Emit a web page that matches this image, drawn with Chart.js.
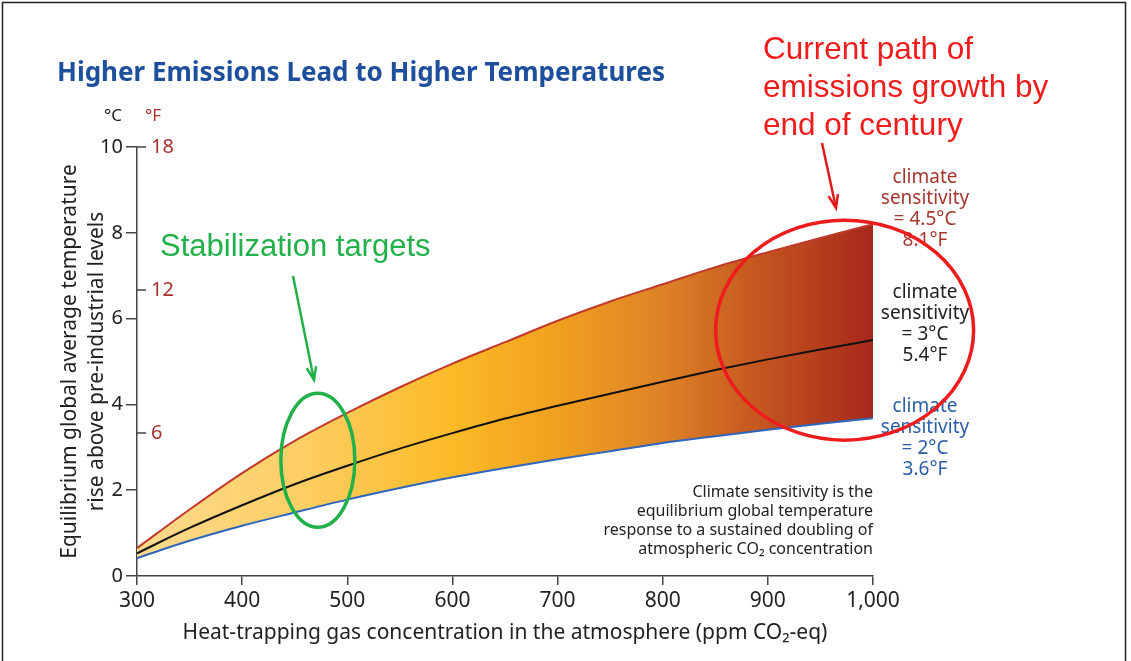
<!DOCTYPE html>
<html>
<head>
<meta charset="utf-8">
<script src="https://cdn.jsdelivr.net/npm/chart.js@4/dist/chart.umd.min.js"></script>
<style>
  html, body { margin: 0; padding: 0; background: #fff; }
  #wrap { width: 1131px; height: 661px; position: relative; }
</style>
</head>
<body>
<div id="wrap"><canvas id="tempChart"></canvas></div>
<script>
// CO2-eq concentration (ppm) and equilibrium warming (deg C)
const ppm     = [300, 350, 400, 450, 500, 550, 600, 650, 700, 750, 800, 850, 900, 950, 1000];
const sens45  = [0.65, 1.55, 2.4, 3.15, 3.8, 4.4, 4.95, 5.45, 5.95, 6.4, 6.8, 7.2, 7.55, 7.88, 8.2];
const sens3   = [0.53, 1.12, 1.65, 2.14, 2.57, 2.97, 3.33, 3.67, 3.97, 4.25, 4.53, 4.8, 5.05, 5.28, 5.5];
const sens2   = [0.42, 0.82, 1.17, 1.48, 1.78, 2.05, 2.3, 2.52, 2.72, 2.91, 3.1, 3.26, 3.41, 3.55, 3.68];

// axis ticks
const cTicks = [0, 2, 4, 6, 8, 10];
const fTicks = [6, 12, 18];

// fill colour along the x axis
const fillStops = [[300, '#fdda8e'], [450, '#fdcf66'], [600, '#fbba27'], [700, '#f1a01f'],
                   [800, '#de8227'], [900, '#c2521f'], [1000, '#a7281b']];

const HUMANIST = '"Noto Sans", "Open Sans", sans-serif';
const ARIAL = '"Liberation Sans", Arial, sans-serif';

function toPoints(ys) {
    return ppm.map((x, i) => ({ x: x, y: ys[i] }));
}

function bandFill(ctx) {
    const chart = ctx.chart;
    if (!chart.chartArea) return 'rgba(0,0,0,0)';
    const xs = chart.scales.x;
    const x0 = xs.getPixelForValue(ppm[0]);
    const x1 = xs.getPixelForValue(ppm[ppm.length - 1]);
    const g = chart.ctx.createLinearGradient(x0, 0, x1, 0);
    fillStops.forEach(s => g.addColorStop((s[0] - ppm[0]) / (ppm[ppm.length - 1] - ppm[0]), s[1]));
    return g;
}

function text(c, str, x, y, font, color, align) {
    c.font = font;
    c.fillStyle = color;
    c.textAlign = align || 'left';
    c.textBaseline = 'middle';
    c.fillText(str, x, y);
}

function arrow(c, x0, y0, x1, y1, color) {
    c.strokeStyle = color;
    c.fillStyle = color;
    c.lineWidth = 2.5;
    c.beginPath();
    c.moveTo(x0, y0);
    c.lineTo(x1, y1);
    c.stroke();
    const a = Math.atan2(y1 - y0, x1 - x0);
    c.beginPath();
    c.moveTo(x1 - 14 * Math.cos(a - 0.35), y1 - 14 * Math.sin(a - 0.35));
    c.lineTo(x1, y1);
    c.lineTo(x1 - 14 * Math.cos(a + 0.35), y1 - 14 * Math.sin(a + 0.35));
    c.stroke();
}

// everything drawn over the plot: second unit axis, labels, hand-drawn annotations
const decor = {
    id: 'decor',
    afterDraw(chart) {
        const c = chart.ctx;
        const xs = chart.scales.x, ys = chart.scales.y;
        const ax = chart.chartArea.left;
        c.save();

        // frame
        c.strokeStyle = '#222';
        c.lineWidth = 1.5;
        c.strokeRect(2.5, 2.5, 1123, 680);

        // title
        text(c, 'Higher Emissions Lead to Higher Temperatures', 57, 74, 'bold 26px ' + HUMANIST, '#1d4f9c');

        // units
        text(c, '°C', 113, 116, '17px ' + HUMANIST, '#222', 'center');
        text(c, '°F', 153, 116, '17px ' + HUMANIST, '#a8312c', 'center');

        // fahrenheit ticks on the right side of the axis
        c.strokeStyle = '#444';
        c.lineWidth = 1.5;
        fTicks.forEach(f => {
            const y = ys.getPixelForValue(f / 1.8);
            c.beginPath();
            c.moveTo(ax, y);
            c.lineTo(ax + 9, y);
            c.stroke();
            text(c, String(f), ax + 14, y, '20px ' + HUMANIST, '#a8312c');
        });

        // sensitivity labels
        const rx = xs.getPixelForValue(1000) + 52;
        const lab = (lines, y0, color) => lines.forEach((t, i) =>
            text(c, t, rx, y0 + i * 21, '19px ' + HUMANIST, color, 'center'));
        lab(['climate', 'sensitivity', '= 4.5°C', '8.1°F'], 178, '#a6372f');
        lab(['climate', 'sensitivity', '= 3°C', '5.4°F'], 293, '#222');
        lab(['climate', 'sensitivity', '= 2°C', '3.6°F'], 407, '#2b5ea8');

        // note
        const nx = xs.getPixelForValue(1000);
        ['Climate sensitivity is the', 'equilibrium global temperature',
         'response to a sustained doubling of', 'atmospheric CO₂ concentration']
            .forEach((t, i) => text(c, t, nx, 492 + i * 19, '16px ' + HUMANIST, '#222', 'right'));

        // stabilization annotation
        text(c, 'Stabilization targets', 160, 247, '31px ' + ARIAL, '#22b04a');
        arrow(c, 293, 276, 314, 380, '#22b04a');
        c.strokeStyle = '#22b04a';
        c.lineWidth = 3.5;
        c.beginPath();
        c.ellipse(xs.getPixelForValue(472), ys.getPixelForValue(2.7), 37, 67, 0, 0, Math.PI * 2);
        c.stroke();

        // current path annotation
        ['Current path of', 'emissions growth by', 'end of century']
            .forEach((t, i) => text(c, t, 763, 50 + i * 38, '31.5px ' + ARIAL, '#f01c1c'));
        arrow(c, 822, 143, 836, 208, '#e01a1a');
        c.strokeStyle = '#ee1c1c';
        c.lineWidth = 3.5;
        c.beginPath();
        c.ellipse(xs.getPixelForValue(973), ys.getPixelForValue(5.73), 129, 110, 0, 0, Math.PI * 2);
        c.stroke();

        c.restore();
    }
};

const ctx = document.getElementById('tempChart').getContext('2d');
const tempChart = new Chart(ctx, {
    type: 'line',
    data: {
        datasets: [
            {
                label: 'sensitivity 4.5°C',
                data: toPoints(sens45),
                borderColor: '#bf3a2b',
                borderWidth: 2,
                backgroundColor: bandFill,
                fill: 2
            },
            {
                label: 'sensitivity 3°C',
                data: toPoints(sens3),
                borderColor: '#111',
                borderWidth: 2,
                fill: false
            },
            {
                label: 'sensitivity 2°C',
                data: toPoints(sens2),
                borderColor: '#2e66bb',
                borderWidth: 2,
                fill: false
            }
        ]
    },
    options: {
        responsive: true,
        maintainAspectRatio: false,
        animation: false,
        layout: { padding: { left: 56, top: 147, right: 258, bottom: 15 } },
        elements: {
            point: { radius: 0 },
            line: { cubicInterpolationMode: 'monotone' }
        },
        plugins: {
            legend: { display: false },
            tooltip: { enabled: false },
            filler: { drawTime: 'beforeDatasetsDraw' }
        },
        scales: {
            x: {
                type: 'linear',
                min: 300,
                max: 1000,
                afterFit: s => { s.height = 70; },
                afterBuildTicks: s => { s.ticks = ppm.filter(v => v % 100 === 0).map(v => ({ value: v })); },
                grid: { drawOnChartArea: false, tickLength: 9, color: '#444', lineWidth: 1.5 },
                border: { color: '#444', width: 1.5 },
                ticks: {
                    color: '#222',
                    padding: 3,
                    maxRotation: 0,
                    font: { family: HUMANIST, size: 21 },
                    callback: v => v.toLocaleString('en-US')
                },
                title: {
                    display: true,
                    text: 'Heat-trapping gas concentration in the atmosphere (ppm CO₂-eq)',
                    color: '#222',
                    font: { family: HUMANIST, size: 21 },
                    padding: { top: 0, bottom: 0 }
                }
            },
            y: {
                min: 0,
                max: 10,
                afterFit: s => { s.width = 81; },
                afterBuildTicks: s => { s.ticks = cTicks.map(v => ({ value: v })); },
                grid: { drawOnChartArea: false, tickLength: 11, color: '#444', lineWidth: 1.5 },
                border: { color: '#444', width: 1.5 },
                ticks: {
                    color: '#222',
                    padding: 3,
                    font: { family: HUMANIST, size: 20 }
                },
                title: {
                    display: true,
                    text: ['Equilibrium global average temperature', 'rise above pre-industrial levels'],
                    color: '#222',
                    font: { family: HUMANIST, size: 21, lineHeight: 1.29 },
                    padding: { top: 0, bottom: 0 }
                }
            }
        }
    },
    plugins: [decor]
});
</script>
</body>
</html>
